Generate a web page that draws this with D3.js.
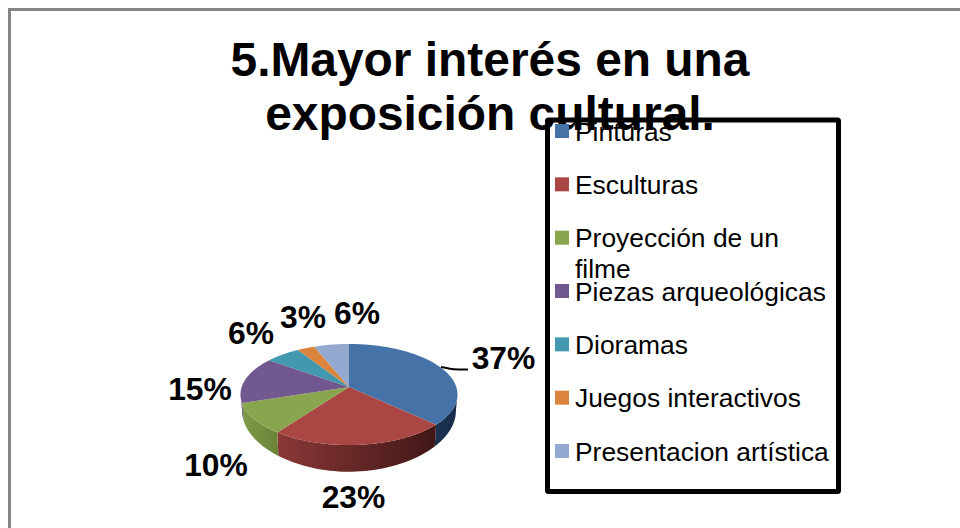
<!DOCTYPE html>
<html><head><meta charset="utf-8">
<style>html,body{margin:0;padding:0;background:#fff}svg{display:block}text{font-family:"Liberation Sans",Arial,sans-serif;fill:#000}</style>
<script src="https://cdn.jsdelivr.net/npm/d3@7"></script>
</head><body><svg id="c" width="960" height="528"></svg>
<script>
const titleLines = ["5.Mayor interés en una", "exposición cultural."];
const categories = ["Pinturas","Esculturas","Proyección de un filme","Piezas arqueológicas","Dioramas","Juegos interactivos","Presentacion artística"];
const values = [37,23,10,15,6,3,6];
const colors = ["#4572a7","#aa4643","#89a54e","#71588f","#4198af","#db843d","#93a9cf"];
const sideLeft = ["#1a3150","#8a3836","#7f9c48","#5a4672","#33798d","#b06a30","#7788a8"];
const sideRight = ["#172c49","#401716","#6b8439","#4a3a60","#2a6373","#8f5527","#65758f"];
const labelPos = [[503.5,358],[353.5,497],[216,465],[200,389],[251,333],[303,317],[357,313]];

const svg = d3.select("#c");
const defs = svg.append("defs");
// frame
svg.append("path").attr("d", d3.line()([[9.5,528],[9.5,9.5],[960,9.5]])).attr("fill","none").attr("stroke","#868686").attr("stroke-width",3);

// title
svg.append("g").selectAll("text").data(titleLines).join("text")
  .attr("x",490).attr("y",(d,i)=>76+i*54).attr("text-anchor","middle")
  .attr("font-weight","bold").attr("font-size",47.9).text(d=>d);

// perspective projection of the pie's top disc
const cx=349, cy=387, A=49.4, B=107.3, k=0.1485;
const projTop = a => { const u=Math.sin(a), v=Math.cos(a), w=1+k*v; return [cx+B*u/w, cy-A*v/w]; };
const projBot = a => { const [x,y]=projTop(a), v=Math.cos(a); return [cx+(x-cx)*0.985, y+15.5/(1+0.42*v)]; };
const arcs = d3.pie().sort(null)(values);
const line = d3.line();
const TAU=Math.PI*2;
const arcPts = (f,a0,a1) => d3.range(0,41).map(i=>f(a0+(a1-a0)*i/40));

// side wall (visible only on the front of the disc)
const visA0=1.72, visA1=TAU-1.72;
const pie = svg.append("g");
arcs.forEach((d,i)=>{
  const a0=Math.max(d.startAngle,visA0), a1=Math.min(d.endAngle,visA1);
  if(a1<=a0) return;
  const top=arcPts(projTop,a0,a1), bot=arcPts(projBot,a0,a1).reverse();
  const xs=top.map(p=>p[0]);
  const id="side"+i;
  const g=defs.append("linearGradient").attr("id",id).attr("gradientUnits","userSpaceOnUse")
    .attr("x1",d3.min(xs)).attr("x2",d3.max(xs)).attr("y1",0).attr("y2",0);
  g.append("stop").attr("offset",0).attr("stop-color",sideLeft[i]);
  g.append("stop").attr("offset",1).attr("stop-color",sideRight[i]);
  pie.append("path").attr("d",line(top.concat(bot))+"Z").attr("fill",`url(#${id})`);
});
// top face
pie.selectAll("path.top").data(arcs).join("path").attr("class","top")
  .attr("d",d=>line([[cx,cy]].concat(arcPts(projTop,d.startAngle,d.endAngle)))+"Z")
  .attr("fill",(d,i)=>colors[i]);

// labels
svg.append("g").selectAll("text").data(values).join("text")
  .attr("x",(d,i)=>labelPos[i][0]).attr("y",(d,i)=>labelPos[i][1]+11)
  .attr("text-anchor","middle").attr("font-weight","bold").attr("font-size",31.8)
  .text(d=>d+"%");
// leader line
svg.append("path").attr("d",d3.line().curve(d3.curveBasis)([[441,367],[450,369],[458,369.5],[468,369.5]]))
  .attr("fill","none").attr("stroke","#000").attr("stroke-width",2);

// legend
svg.append("rect").attr("x",547.5).attr("y",120).attr("width",291).attr("height",371.5).attr("rx",1)
  .attr("fill","none").attr("stroke","#000").attr("stroke-width",5);
const rowY = d3.scalePoint().domain(categories).range([131,451]);
const leg = svg.append("g").selectAll("g").data(categories).join("g")
  .attr("transform",d=>`translate(0,${rowY(d)})`);
leg.append("rect").attr("x",555).attr("y",-7).attr("width",14).attr("height",14).attr("fill",(d,i)=>colors[i]);
const wrap = d => d==="Proyección de un filme" ? ["Proyección de un","filme"] : [d];
leg.append("text").attr("font-size",26.4).selectAll("tspan").data(d=>wrap(d)).join("tspan")
  .attr("x",575).attr("y",(d,i)=>9.5+i*31).text(d=>d);
</script></body></html>
